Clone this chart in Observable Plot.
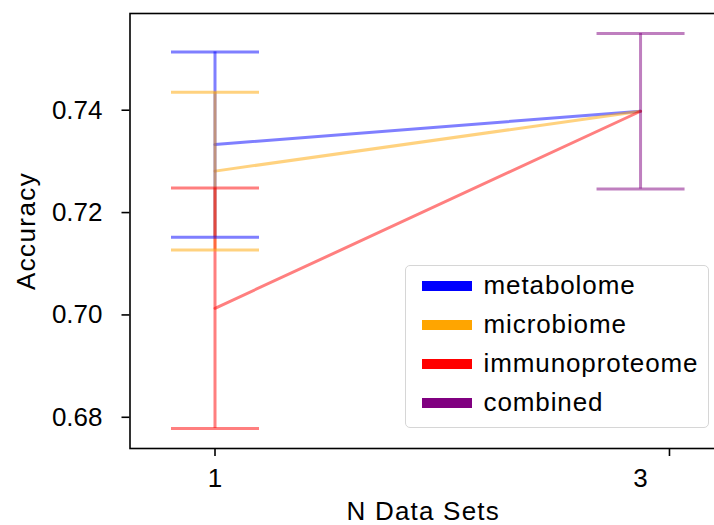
<!DOCTYPE html>
<html><head><meta charset="utf-8">
<script src="https://cdn.jsdelivr.net/npm/d3@7"></script>
<script src="https://cdn.jsdelivr.net/npm/@observablehq/plot@0.6"></script>
<style>
html,body{margin:0;padding:0;background:#fff;overflow:hidden;}
#wrap{position:relative;width:714px;height:525px;overflow:hidden;font-family:"Liberation Sans",Arial,sans-serif;}
#wrap svg{display:block;max-width:none !important;width:732px !important;height:525px !important;}
#wrap svg g[aria-label="x-axis label"] text{letter-spacing:1.2px;}
#wrap svg g[aria-label="y-axis label"] text{letter-spacing:1.4px;}
#legend{position:absolute;left:405px;top:265px;width:302px;height:161px;border:1.5px solid #d6d6d6;border-radius:5px;background:rgba(255,255,255,0.8);}
.row{position:absolute;left:0;height:39px;line-height:39px;font-size:26px;letter-spacing:0.9px;color:#000;white-space:nowrap;}
.sw{position:absolute;left:15.5px;width:50px;height:10px;top:14.5px;}
.lab{position:absolute;left:77.5px;top:0;}
</style></head><body><div id="wrap"></div>
<script>
// ---- data ----
const series = ["metabolome", "microbiome", "immunoproteome", "combined"];
const seriesColors = ["blue", "orange", "red", "purple"];
const singleSeries = ["metabolome", "microbiome", "immunoproteome"];
const singleN = 1;
const singleMean = [0.7333, 0.7281, 0.7013];
const singleErr = [0.0181, 0.0154, 0.0235];
const combinedN = 3;
const combinedMean = 0.7398;
const combinedErr = 0.0152;
const yTicks = [0.68, 0.70, 0.72, 0.74];
const xTickLabels = [1, 3];
const xTickMarks = [1, 3.136];

// ---- tables ----
const points = singleSeries.map((s, i) => ({series: s, n: singleN, acc: singleMean[i], err: singleErr[i]}))
  .concat([{series: "combined", n: combinedN, acc: combinedMean, err: combinedErr}]);
const lines = singleSeries.flatMap((s, i) => [
  {series: s, n: singleN, acc: singleMean[i]},
  {series: s, n: combinedN, acc: combinedMean}
]);
const capSymbol = {draw(ctx) { ctx.moveTo(-44, 0); ctx.lineTo(44, 0); }};
const FS = 26;
const common = {stroke: "series", strokeOpacity: 0.5, strokeWidth: 3};

const chart = Plot.plot({
  width: 732, height: 525,
  marginLeft: 129.5, marginRight: 16, marginTop: 13, marginBottom: 77,
  style: {fontFamily: "'Liberation Sans', Arial, sans-serif", fontSize: FS + "px", color: "black", background: "white"},
  x: {domain: [0.6005, 3.357], axis: null},
  y: {domain: [0.6739, 0.7589], axis: null},
  color: {domain: series, range: seriesColors},
  marks: [
    Plot.line(lines, {x: "n", y: "acc", z: "series", ...common}),
    Plot.ruleX(points, {x: "n", y1: d => d.acc - d.err, y2: d => d.acc + d.err, ...common}),
    Plot.dot(points, {x: "n", y: d => d.acc + d.err, symbol: capSymbol, fill: "none", ...common}),
    Plot.dot(points, {x: "n", y: d => d.acc - d.err, symbol: capSymbol, fill: "none", ...common}),
    Plot.axisY({ticks: yTicks, tickFormat: d3.format(".2f"), tickSize: 8, tickPadding: 19.5, fontSize: FS,
      strokeWidth: 1.6, label: "Accuracy", labelAnchor: "center", labelOffset: 113, labelArrow: "none"}),
    Plot.axisX({ticks: xTickMarks, tickSize: 8, tickFormat: () => "", strokeWidth: 1.6, label: null}),
    Plot.axisX({ticks: xTickLabels, tickSize: 0, tickPadding: 20, fontSize: FS, tickFormat: d => String(d),
      label: "N Data Sets", labelAnchor: "center", labelOffset: 71, labelArrow: "none"}),
    Plot.frame({stroke: "black", strokeWidth: 1.6})
  ]
});
const wrap = document.getElementById("wrap");
wrap.appendChild(chart);

// ---- legend ----
const legend = document.createElement("div");
legend.id = "legend";
series.forEach((s, i) => {
  const row = document.createElement("div");
  row.className = "row";
  row.style.top = (0.3 + i * 39) + "px";
  const sw = document.createElement("div");
  sw.className = "sw";
  sw.style.background = seriesColors[i];
  const lab = document.createElement("div");
  lab.className = "lab";
  lab.textContent = s;
  row.appendChild(sw); row.appendChild(lab);
  legend.appendChild(row);
});
wrap.appendChild(legend);
</script></body></html>
